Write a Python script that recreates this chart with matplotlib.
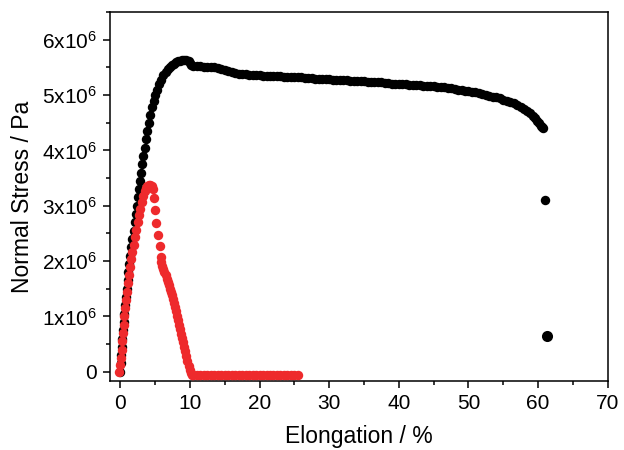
import matplotlib
matplotlib.use("Agg")
import matplotlib.pyplot as plt
from matplotlib.ticker import MultipleLocator, FixedLocator, FixedFormatter

plt.rcParams['font.family'] = ['Liberation Sans', 'DejaVu Sans']
plt.rcParams['mathtext.default'] = 'regular'

# black sample: elongation (%) and stress (units of 1e6 Pa)
black_x = [0.0, 0.05, 0.1, 0.2, 0.3, 0.4, 0.5, 0.6, 0.75, 0.85, 0.95, 1.05, 1.15,
           1.3, 1.45, 1.6, 1.75, 1.9, 2.05, 2.2, 2.35, 2.5, 2.7, 2.85, 3.0, 3.15,
           3.3, 3.5, 3.7, 3.9, 4.1, 4.3, 4.55, 4.8, 5.05, 5.3, 5.6, 5.9, 6.2, 6.5,
           6.8, 7.1, 7.4, 7.7, 8.0, 8.3, 8.6, 8.9, 9.2, 9.5, 9.8, 10.0, 10.2, 10.5,
           11.0, 11.5, 12.0, 12.5, 13.0, 13.5, 14.0, 14.5, 15.0, 15.5, 16.0, 16.5,
           17.0, 17.5, 18.0, 18.5, 19.0, 19.5, 20.0, 20.5, 21.0, 21.5, 22.0, 22.5,
           23.0, 23.5, 24.0, 24.5, 25.0, 25.5, 26.0, 26.5, 27.0, 27.5, 28.0, 28.5,
           29.0, 29.5, 30.0, 30.5, 31.0, 31.5, 32.0, 32.5, 33.0, 33.5, 34.0, 34.5,
           35.0, 35.5, 36.0, 36.5, 37.0, 37.5, 38.0, 38.5, 39.0, 39.5, 40.0, 40.5,
           41.0, 41.5, 42.0, 42.5, 43.0, 43.5, 44.0, 44.5, 45.0, 45.5, 46.0, 46.5,
           47.0, 47.5, 48.0, 48.5, 49.0, 49.5, 50.0, 50.5, 51.0, 51.5, 52.0, 52.5,
           53.0, 53.5, 54.0, 54.5, 55.0, 55.5, 56.0, 56.5, 57.0, 57.5, 58.0, 58.4,
           58.8, 59.2, 59.5, 59.8, 60.1, 60.4, 60.6, 60.7, 61.0]
black_y = [0.0, 0.15, 0.3, 0.45, 0.6, 0.75, 0.9, 1.05, 1.2, 1.35, 1.5, 1.65, 1.8,
           1.95, 2.1, 2.25, 2.4, 2.55, 2.7, 2.85, 3.0, 3.15, 3.3, 3.45, 3.6, 3.75,
           3.9, 4.05, 4.2, 4.35, 4.5, 4.64, 4.78, 4.9, 5.0, 5.1, 5.2, 5.28, 5.36, 5.42,
           5.47, 5.51, 5.54, 5.57, 5.59, 5.61, 5.62, 5.63, 5.64, 5.64, 5.62, 5.58, 5.55, 5.53,
           5.52, 5.52, 5.51, 5.51, 5.51, 5.50, 5.49, 5.47, 5.45, 5.43, 5.41, 5.40,
           5.39, 5.38, 5.38, 5.37, 5.37, 5.36, 5.36, 5.35, 5.35, 5.35, 5.34, 5.34,
           5.34, 5.33, 5.33, 5.33, 5.32, 5.32, 5.32, 5.31, 5.31, 5.31, 5.30, 5.30,
           5.29, 5.29, 5.29, 5.28, 5.28, 5.27, 5.27, 5.27, 5.26, 5.26, 5.25, 5.25,
           5.25, 5.24, 5.24, 5.23, 5.23, 5.23, 5.22, 5.22, 5.21, 5.21, 5.21, 5.20,
           5.20, 5.19, 5.19, 5.18, 5.18, 5.17, 5.17, 5.16, 5.16, 5.15, 5.14, 5.14,
           5.13, 5.12, 5.11, 5.10, 5.09, 5.08, 5.07, 5.06, 5.05, 5.04, 5.02, 5.01,
           4.99, 4.97, 4.96, 4.94, 4.92, 4.90, 4.88, 4.85, 4.82, 4.79, 4.75, 4.71,
           4.67, 4.62, 4.58, 4.53, 4.49, 4.45, 4.42, 4.40, 3.11]
# last isolated point (drawn a bit larger in the source)
black_last_x = [61.3]
black_last_y = [0.65]

# red sample
red_x = [-0.2, 0.0, 0.1, 0.2, 0.3, 0.38, 0.48, 0.6, 0.72, 0.85, 0.96, 1.1, 1.25,
         1.4, 1.55, 1.7, 1.9, 2.1, 2.3, 2.5, 2.7, 2.9, 3.1, 3.3, 3.5, 3.7, 3.9,
         4.1, 4.3, 4.5, 4.65, 4.8, 4.95, 5.2, 5.45, 5.65, 5.8, 5.9, 6.05, 6.2,
         6.35, 6.5, 6.65, 6.8, 6.95, 7.1, 7.25, 7.4, 7.55, 7.7, 7.85, 8.0, 8.15,
         8.3, 8.45, 8.6, 8.75, 8.9, 9.05, 9.2, 9.35, 9.5, 9.65, 9.8, 9.95, 10.1,
         10.3, 10.5, 11.0, 11.5, 12.0, 12.5, 13.0, 13.5, 14.0, 14.5, 15.0, 15.5,
         16.0, 16.5, 17.0, 17.5, 18.0, 18.5, 19.0, 19.5, 20.0, 20.5, 21.0, 21.5,
         22.0, 22.5, 23.0, 23.5, 24.0, 24.5, 25.0, 25.5]
red_y = [0.0, 0.12, 0.25, 0.4, 0.55, 0.7, 0.85, 1.0, 1.15, 1.3, 1.45, 1.6, 1.75,
         1.9, 2.03, 2.17, 2.3, 2.43, 2.57, 2.7, 2.83, 2.95, 3.07, 3.17, 3.26, 3.32, 3.36,
         3.38, 3.38, 3.36, 3.3, 3.14, 2.93, 2.69, 2.48, 2.27, 2.08, 1.98, 1.92, 1.86,
         1.80, 1.74, 1.68, 1.62, 1.56, 1.50, 1.44, 1.38, 1.32, 1.25, 1.17, 1.09, 1.01,
         0.93, 0.85, 0.77, 0.69, 0.61, 0.53, 0.45, 0.37, 0.28, 0.20, 0.11, 0.03, -0.03,
         -0.05, -0.05, -0.05, -0.05, -0.05, -0.05, -0.05, -0.05, -0.05, -0.05, -0.05, -0.05,
         -0.05, -0.05, -0.05, -0.05, -0.05, -0.05, -0.05, -0.05, -0.05, -0.05, -0.05, -0.05,
         -0.05, -0.05, -0.05, -0.05, -0.05, -0.05, -0.05, -0.05]

y_ticks = [0, 1, 2, 3, 4, 5, 6]
y_labels = ['0', r'1x10$^6$', r'2x10$^6$', r'3x10$^6$', r'4x10$^6$', r'5x10$^6$', r'6x10$^6$']

fig = plt.figure(figsize=(6.24, 4.5), dpi=100)
ax = fig.add_axes([0.176, 0.153, 0.798, 0.82])

ax.plot(black_x, [v * 1e6 for v in black_y], 'o', color='black', ms=6.8, mew=0, zorder=2)
ax.plot(black_last_x, [v * 1e6 for v in black_last_y], 'o', color='black', ms=8, mew=0, zorder=2)
ax.plot(red_x, [v * 1e6 for v in red_y], 'o', color='#ee2a2c', ms=6.8, mew=0, zorder=3)

ax.set_xlim(-1.5, 70)
ax.set_ylim(-0.17e6, 6.5e6)
ax.xaxis.set_major_locator(MultipleLocator(10))
ax.xaxis.set_minor_locator(MultipleLocator(5))
ax.yaxis.set_major_locator(FixedLocator([v * 1e6 for v in y_ticks]))
ax.yaxis.set_major_formatter(FixedFormatter(y_labels))
ax.yaxis.set_minor_locator(MultipleLocator(0.5e6))

ax.tick_params(which='both', direction='out', width=1.1, labelsize=15, colors='black')
ax.tick_params(which='major', length=5, pad=4)
ax.tick_params(which='minor', length=3)
for s in ax.spines.values():
    s.set_linewidth(1.1)

ax.set_xlabel('Elongation / %', fontsize=16.5, labelpad=9)
ax.set_ylabel('Normal Stress / Pa', fontsize=16.5, labelpad=6)

plt.savefig('out.png', dpi=100)
